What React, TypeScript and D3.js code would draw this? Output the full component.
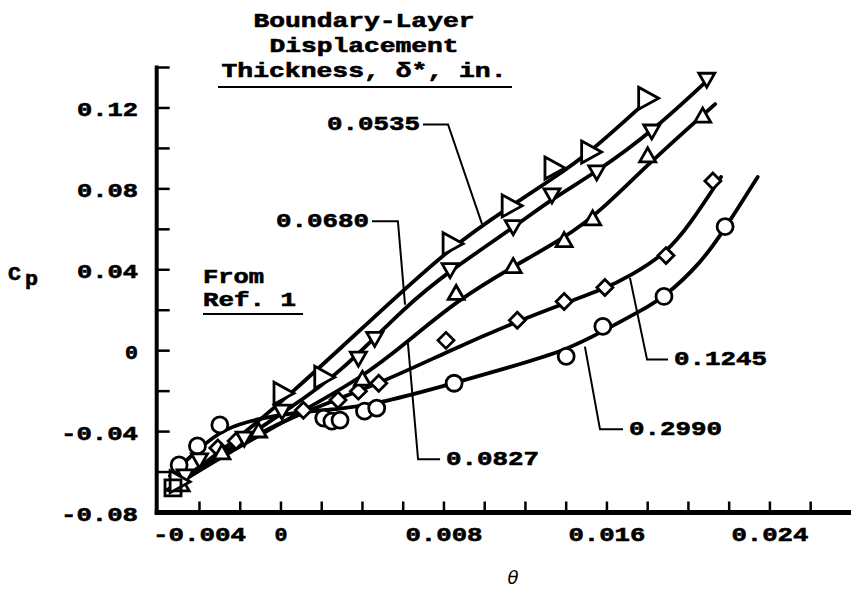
import React from "react";
import * as d3 from "d3";

const WIDTH = 851;
const HEIGHT = 589;

// ---- axes ----
const xTickValues = [-0.004, -0.002, 0, 0.002, 0.004, 0.006, 0.008, 0.01, 0.012, 0.014, 0.016, 0.018, 0.02, 0.022, 0.024, 0.026];
const xLabelValues = [-0.004, 0, 0.008, 0.016, 0.024];
const xLabelTexts = ["-0.004", "0", "0.008", "0.016", "0.024"];
const yTickValues = [-0.06, -0.04, -0.02, 0, 0.02, 0.04, 0.06, 0.08, 0.1, 0.12, 0.14];
const yLabelValues = [0.12, 0.08, 0.04, 0, -0.04, -0.08];
const yLabelTexts = ["0.12", "0.08", "0.04", "0", "-0.04", "-0.08"];

const titleLines = ["Boundary-Layer", "Displacement", "Thickness, \u03b4*, in."];

// ---- series: delta* = 0.0535 (right triangles) ----
const markers0535: [number, number][] = [
  [-0.005, -0.0648], [0.0001, -0.021], [0.0021, -0.0131], [0.0084, 0.0529],
  [0.0113, 0.0716], [0.0134, 0.0903], [0.0152, 0.0982], [0.018, 0.1248],
];
const curve0535: [number, number][] = [
  [-0.00555, -0.0688], [-0.0025, -0.0466], [0.00044, -0.0219], [0.0044, 0.0150],
  [0.0084, 0.0519], [0.0113, 0.0716], [0.0134, 0.0854], [0.0152, 0.0982],
  [0.018, 0.1238],
];

// ---- series: delta* = 0.0680 (down triangles) ----
const markers0680: [number, number][] = [
  [-0.0047, -0.0619], [-0.004, -0.054], [-0.0018, -0.0432], [0.00005, -0.0299],
  [0.0038, -0.0037], [0.0046, 0.0061], [0.0083, 0.0401], [0.0114, 0.0613],
  [0.0133, 0.077], [0.0155, 0.0884], [0.0182, 0.1086], [0.0209, 0.1342],
];
const curve0680: [number, number][] = [
  [-0.00545, -0.0688], [-0.0025, -0.0481], [0.00044, -0.0284], [0.0029, -0.0111],
  [0.0061, 0.0219], [0.0083, 0.0396], [0.0114, 0.0608], [0.0133, 0.0751],
  [0.0155, 0.0884], [0.0182, 0.1081], [0.0211, 0.1352],
];

// ---- series: delta* = 0.0827 (up triangles) ----
const markers0827: [number, number][] = [
  [-0.0049, -0.0663], [-0.0029, -0.0505], [-0.0011, -0.0397], [0.004, -0.0141],
  [0.0086, 0.0283], [0.0114, 0.0416], [0.0139, 0.0544], [0.0153, 0.0652],
  [0.018, 0.0963], [0.0207, 0.116],
];
const curve0827: [number, number][] = [
  [-0.00555, -0.0688], [-0.00275, -0.0515], [0.00044, -0.0333], [0.00403, -0.0131],
  [0.00623, 0.0046], [0.00864, 0.0248], [0.01139, 0.0416], [0.01394, 0.0559],
  [0.01566, 0.0687], [0.01802, 0.0923], [0.02131, 0.1219],
];

// ---- series: delta* = 0.1245 (diamonds) ----
const markers1245: [number, number][] = [
  [-0.0031, -0.0481], [-0.0022, -0.0446], [0.0011, -0.0294], [0.0028, -0.0244],
  [0.0038, -0.02], [0.0048, -0.0161], [0.0081, 0.0051], [0.0116, 0.015],
  [0.0139, 0.0243], [0.0159, 0.0312], [0.0189, 0.047], [0.0212, 0.0839],
];
const curve1245: [number, number][] = [
  [-0.00555, -0.0688], [-0.0025, -0.0481], [0.0009, -0.0308], [0.0049, -0.0161],
  [0.0083, 0.0002], [0.0116, 0.0145], [0.0139, 0.0233], [0.0159, 0.0307],
  [0.0171, 0.0367], [0.0189, 0.048], [0.0201, 0.0628], [0.0216, 0.0859],
];

// ---- series: delta* = 0.2990 (circles) ----
const markers2990: [number, number][] = [
  [-0.005, -0.0565], [-0.0041, -0.0471], [-0.003, -0.0367], [0.0021, -0.0333],
  [0.0025, -0.0348], [0.0029, -0.0343], [0.0041, -0.0299], [0.0047, -0.0284],
  [0.0085, -0.0161], [0.014, -0.0028], [0.0158, 0.012], [0.0188, 0.0268],
  [0.0218, 0.0613],
];
const curve2990: [number, number][] = [
  [-0.00545, -0.0619], [-0.004, -0.0481], [-0.00275, -0.0382], [-0.001, -0.0333],
  [0.0009, -0.0303], [0.0029, -0.0289], [0.0049, -0.0259], [0.0085, -0.0161],
  [0.0112, -0.0082], [0.014, 0.0002], [0.0158, 0.0096], [0.0176, 0.0194],
  [0.0188, 0.0263], [0.0206, 0.0431], [0.0218, 0.0603], [0.0234, 0.0859],
];

// ---- reference point (From Ref. 1) ----
const refMarkers: [number, number][] = [[-0.0053, -0.0678]];

// ---- leader annotations ----
const leaderTexts = ["0.0535", "0.0680", "0.0827", "0.1245", "0.2990"];
const leader0535: [number, number][] = [[0.00697, 0.1118], [0.0082, 0.1118], [0.00987, 0.0626]];
const leader0680: [number, number][] = [[0.00447, 0.064], [0.00574, 0.064], [0.00609, 0.0227]];
const leader0827: [number, number][] = [[0.00623, 0.0039], [0.00673, -0.0537], [0.00781, -0.0537]];
const leader1245: [number, number][] = [[0.01713, 0.036], [0.01797, -0.0044], [0.019, -0.0044]];
const leader2990: [number, number][] = [[0.01492, 0.002], [0.01566, -0.0389], [0.01679, -0.0389]];

type MarkerKind = "triRight" | "triDown" | "triUp" | "diamond" | "circle" | "square";

const seriesList: { markers: [number, number][]; curve: [number, number][]; kind: MarkerKind }[] = [
  { markers: markers2990, curve: curve2990, kind: "circle" },
  { markers: markers1245, curve: curve1245, kind: "diamond" },
  { markers: markers0827, curve: curve0827, kind: "triUp" },
  { markers: markers0680, curve: curve0680, kind: "triDown" },
  { markers: markers0535, curve: curve0535, kind: "triRight" },
];

const leaders: { pts: [number, number][]; text: string; side: "start" | "end" }[] = [
  { pts: leader0535, text: leaderTexts[0], side: "end" },
  { pts: leader0680, text: leaderTexts[1], side: "end" },
  { pts: leader0827, text: leaderTexts[2], side: "start" },
  { pts: leader1245, text: leaderTexts[3], side: "start" },
  { pts: leader2990, text: leaderTexts[4], side: "start" },
];

const MONO = "'Liberation Mono', 'DejaVu Sans Mono', monospace";
const FS = 20;
const ADV = 16; // typewriter advance per character (px)

function markerPath(kind: MarkerKind, cx: number, cy: number): string {
  switch (kind) {
    case "triRight":
      return `M${cx - 9},${cy - 11}L${cx + 11},${cy}L${cx - 9},${cy + 11}Z`;
    case "triDown":
      return `M${cx - 8},${cy - 6}L${cx + 8},${cy - 6}L${cx},${cy + 8}Z`;
    case "triUp":
      return `M${cx - 8},${cy + 6}L${cx + 8},${cy + 6}L${cx},${cy - 8}Z`;
    case "diamond":
      return `M${cx},${cy - 8}L${cx + 8},${cy}L${cx},${cy + 8}L${cx - 8},${cy}Z`;
    case "square":
      return `M${cx - 8},${cy - 8}L${cx + 8},${cy - 8}L${cx + 8},${cy + 8}L${cx - 8},${cy + 8}Z`;
    default:
      return "";
  }
}

function TT(props: {
  x: number;
  y: number;
  text: string;
  anchor?: "start" | "middle" | "end";
  central?: boolean;
}) {
  const { x, y, text, anchor = "start", central = false } = props;
  return (
    <text
      x={x}
      y={y}
      textAnchor={anchor}
      dominantBaseline={central ? "central" : undefined}
      fontFamily={MONO}
      fontWeight="bold"
      fontSize={FS}
      fill="#000"
      stroke="#000"
      strokeWidth={0.6}
      textLength={text.length * ADV - 3}
      lengthAdjust="spacingAndGlyphs"
    >
      {text}
    </text>
  );
}

export default function App() {
  const x = d3.scaleLinear().domain([-0.0061, 0.028]).range([156.7, 851.4]);
  const y = d3.scaleLinear().domain([-0.08, 0.14]).range([512.5, 67.5]);

  const line = d3
    .line<[number, number]>()
    .x((d) => x(d[0]))
    .y((d) => y(d[1]))
    .curve(d3.curveBasis);

  const poly = d3
    .line<[number, number]>()
    .x((d) => x(d[0]))
    .y((d) => y(d[1]));

  const axisX0 = x(-0.0061);
  const axisY0 = y(-0.08);

  return (
    <svg width={WIDTH} height={HEIGHT} style={{ display: "block", position: "absolute", left: 0, top: 0, background: "#fff" }}>
      <rect x={0} y={0} width={WIDTH} height={HEIGHT} fill="#fff" />
      {/* title */}
      {titleLines.map((t, i) => (
        <TT key={"t" + i} x={364} y={27 + i * 25} text={t} anchor="middle" />
      ))}
      <line x1={218} x2={512} y1={87} y2={87} stroke="#000" strokeWidth={2} />

      {/* axes */}
      <line x1={axisX0} x2={axisX0} y1={y(0.14) - 2} y2={axisY0 + 2} stroke="#000" strokeWidth={4} />
      <line x1={axisX0 - 2} x2={WIDTH} y1={axisY0} y2={axisY0} stroke="#000" strokeWidth={5} />
      {yTickValues.map((v) => (
        <line key={"yt" + v} x1={axisX0} x2={axisX0 + 13} y1={y(v)} y2={y(v)} stroke="#000" strokeWidth={2.5} />
      ))}
      {xTickValues.map((v) => (
        <line key={"xt" + v} x1={x(v)} x2={x(v)} y1={axisY0} y2={axisY0 - 11} stroke="#000" strokeWidth={2.5} />
      ))}
      {yLabelValues.map((v, i) => (
        <TT key={"yl" + v} x={138} y={y(v) + 3} text={yLabelTexts[i]} anchor="end" central />
      ))}
      {xLabelValues.map((v, i) => (
        <TT key={"xl" + v} x={x(v)} y={541} text={xLabelTexts[i]} anchor="middle" />
      ))}
      <TT x={8} y={280} text="C" />
      <TT x={25} y={285} text="p" />
      <text x={513} y={584} fontFamily="'DejaVu Sans', sans-serif" fontStyle="italic" fontSize={18} textAnchor="middle" fill="#000">
        θ
      </text>

      {/* curves */}
      {seriesList.map((s, i) => (
        <path key={"c" + i} d={line(s.curve) || ""} fill="none" stroke="#000" strokeWidth={3.8} strokeLinecap="round" />
      ))}

      {/* leaders */}
      {leaders.map((l, i) => {
        const p = l.side === "end" ? l.pts[0] : l.pts[l.pts.length - 1];
        return (
          <g key={"ld" + i}>
            <path d={poly(l.pts) || ""} fill="none" stroke="#000" strokeWidth={2} />
            <TT x={x(p[0]) + (l.side === "end" ? -3 : 6)} y={y(p[1])} text={l.text} anchor={l.side} central />
          </g>
        );
      })}

      {/* markers */}
      {seriesList.map((s, i) => (
        <g key={"m" + i}>
          {s.markers.map((d, j) =>
            s.kind === "circle" ? (
              <circle key={j} cx={x(d[0])} cy={y(d[1])} r={8} fill="#fff" stroke="#000" strokeWidth={2.8} />
            ) : (
              <path key={j} d={markerPath(s.kind, x(d[0]), y(d[1]))} fill="#fff" stroke="#000" strokeWidth={2.8} strokeLinejoin="miter" />
            )
          )}
        </g>
      ))}
      {refMarkers.map((d, j) => (
        <path key={"r" + j} d={markerPath("square", x(d[0]), y(d[1]))} fill="none" stroke="#000" strokeWidth={2.8} />
      ))}

      {/* From Ref. 1 */}
      <TT x={203} y={283} text="From" />
      <TT x={203} y={306} text="Ref. 1" />
      <line x1={203} x2={303} y1={314} y2={314} stroke="#000" strokeWidth={2} />
    </svg>
  );
}
